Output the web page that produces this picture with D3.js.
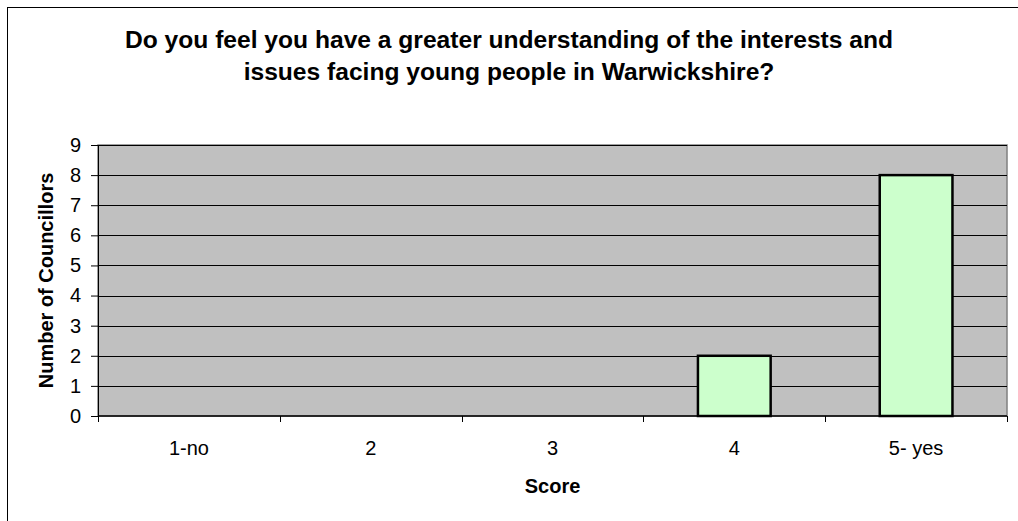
<!DOCTYPE html>
<html>
<head>
<meta charset="utf-8">
<script src="https://cdn.jsdelivr.net/npm/d3@7"></script>
<style>
  body { margin: 0; background: #fff; }
  svg { display: block; font-family: "Liberation Sans", Arial, sans-serif; }
</style>
</head>
<body>
<div id="chart"></div>
<script>
var titleLines = ["Do you feel you have a greater understanding of the interests and",
                  "issues facing young people in Warwickshire?"];
var categories = ["1-no", "2", "3", "4", "5- yes"];
var counts = [0, 0, 0, 2, 8];
var yTicks = [0, 1, 2, 3, 4, 5, 6, 7, 8, 9];

var width = 1018, height = 521;
var margin = {top: 145, right: 11, bottom: 105, left: 98};
var w = width - margin.left - margin.right,
    h = height - margin.top - margin.bottom;

var svg = d3.select("#chart").append("svg")
    .attr("width", width)
    .attr("height", height);

// outer chart border (only top/left visible in frame)
svg.append("rect")
    .attr("x", 7.5).attr("y", 7.5)
    .attr("width", width + 20).attr("height", height + 20)
    .style("fill", "none")
    .style("stroke", "#000")
    .style("stroke-width", 1);

svg.append("text")
    .attr("x", 509)
    .attr("y", 48)
    .style("text-anchor", "middle")
    .style("font-weight", "bold")
    .style("font-size", "24.6px")
    .selectAll("tspan").data(titleLines).enter()
    .append("tspan")
      .attr("x", 509)
      .attr("dy", function(d, i) { return i ? 32 : 0; })
      .text(function(d) { return d; });

var g = svg.append("g")
    .attr("transform", "translate(" + margin.left + "," + margin.top + ")");

var x = d3.scaleBand().domain(categories).range([0, w]).paddingInner(0.6).paddingOuter(0.3);
var xb = d3.scaleBand().domain(categories).range([0, w]);
var y = d3.scaleLinear().domain([0, 9]).range([h, 0]);

// plot background
g.append("rect")
    .attr("width", w).attr("height", h)
    .style("fill", "#c0c0c0")
    .style("stroke", "#808080")
    .style("stroke-width", 1.5);

// gridlines
g.selectAll(".grid").data(yTicks.slice(1)).enter()
  .append("line")
    .attr("class", "grid")
    .attr("x1", 0).attr("x2", w)
    .attr("y1", function(d) { return Math.round(y(d)) + 0.5; })
    .attr("y2", function(d) { return Math.round(y(d)) + 0.5; })
    .style("stroke", "#000")
    .style("stroke-width", 1);

// bars
g.selectAll(".bar").data(counts).enter()
  .append("rect")
    .attr("class", "bar")
    .attr("x", function(d, i) { return x(categories[i]); })
    .attr("width", x.bandwidth())
    .attr("y", function(d) { return y(d); })
    .attr("height", function(d) { return h - y(d); })
    .style("fill", function(d) { return d > 0 ? "#ccffcc" : "none"; })
    .style("stroke", function(d) { return d > 0 ? "#000" : "none"; })
    .style("stroke-width", 2.5);

// y axis
var yAxis = g.append("g")
    .call(d3.axisLeft(y).tickValues(yTicks).tickSize(7).tickPadding(10).tickFormat(d3.format("d")));
yAxis.select(".domain").style("stroke", "#000");
yAxis.selectAll("text").style("font-size", "20px").style("font-family", "Liberation Sans, Arial, sans-serif").attr("fill", "#000");

// x axis
var xAxisG = g.append("g").attr("transform", "translate(0," + h + ")");
xAxisG.append("line")
    .attr("x1", 0).attr("x2", w)
    .style("stroke", "#000").style("stroke-width", 1.5);
xAxisG.selectAll(".xtick").data(categories.concat(["end"])).enter()
  .append("line")
    .attr("x1", function(d, i) { return Math.round(i * xb.step()) + 0.5; })
    .attr("x2", function(d, i) { return Math.round(i * xb.step()) + 0.5; })
    .attr("y1", 0).attr("y2", 6)
    .style("stroke", "#000");
xAxisG.selectAll(".xlab").data(categories).enter()
  .append("text")
    .attr("x", function(d) { return xb(d) + xb.bandwidth() / 2; })
    .attr("y", 39)
    .style("text-anchor", "middle")
    .style("font-size", "20px")
    .text(function(d) { return d; });

svg.append("text")
    .attr("x", margin.left + w / 2)
    .attr("y", 493)
    .style("text-anchor", "middle")
    .style("font-weight", "bold")
    .style("font-size", "20px")
    .text("Score");

svg.append("text")
    .attr("transform", "translate(53," + (margin.top + h / 2) + ") rotate(-90)")
    .style("text-anchor", "middle")
    .style("font-weight", "bold")
    .style("font-size", "20px")
    .text("Number of Councillors");
</script>
</body>
</html>
